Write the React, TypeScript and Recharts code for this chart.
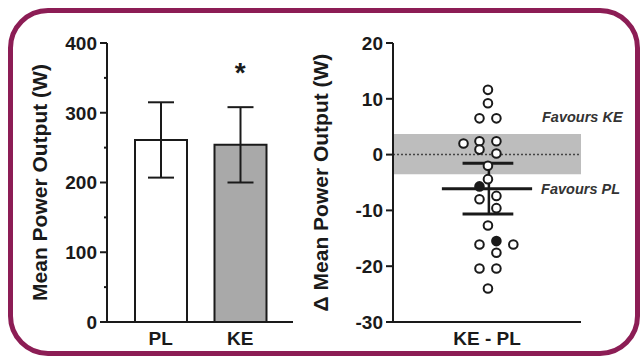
import {
  BarChart,
  Bar,
  Cell,
  XAxis,
  YAxis,
  ErrorBar,
  ReferenceDot,
  ComposedChart,
  Scatter,
  ReferenceLine,
  ReferenceArea,
} from "recharts";

// left panel: group means ± SD
const groups = ["PL", "KE"];
const groupMeans = [261, 254];
const groupSD = [54, 54];
const groupFills = ["#ffffff", "#a9a9a9"];
const leftTicks = [0, 50, 100, 150, 200, 250, 300, 350, 400];

// right panel: individual KE - PL differences
const diffValues = [
  11.6, 9.2, 6.5, 6.5, 2.0, 2.4, 2.4, 0.9, 0.2, -2.0, -4.4, -5.7, -8.0, -7.4,
  -9.6, -12.7, -16.1, -15.5, -16.1, -17.6, -20.4, -20.4, -24.0,
];
const diffJitter = [
  0.1, 0.1, -0.8, 1.0, -2.5, -0.8, 1.0, -0.8, 1.0, 0.1, 0.1, -0.8, -0.8, 1.0,
  1.0, 0.1, -0.8, 1.0, 2.8, 1.0, -0.8, 1.0, 0.1,
];
const diffFilled = [
  false, false, false, false, false, false, false, false, false, false, false,
  true, false, false, false, false, false, true, false, false, false, false,
  false,
];
const meanDiff = -6.1;
const semDiff = 4.55;
const swcUpper = 3.7;
const swcLower = -3.5;
const rightTicks = [-30, -20, -10, 0, 10, 20];

const INK = "#1a1a1a";
const FONT = "'Liberation Sans', Arial, sans-serif";
const TICK_SIZE = 7;
const TICK_MARGIN = 3;

const barData = groups.map((g, i) => ({ name: g, mean: groupMeans[i], sd: groupSD[i] }));
const diffData = diffValues.map((v, i) => ({ x: diffJitter[i], y: v, filled: diffFilled[i] }));

const tickText = { fontSize: 19, fontWeight: "bold", fill: INK } as const;
const noteText = { fontSize: 14.5, fontWeight: "bold", fontStyle: "italic", fill: "#333" } as const;

function LeftTick(props: any) {
  const { x, y, payload } = props;
  const major = payload.value % 100 === 0;
  const x2 = x + TICK_MARGIN + TICK_SIZE;
  return (
    <g>
      <line x1={major ? x2 - TICK_SIZE : x2 - 3} x2={x2} y1={y} y2={y} stroke={INK} strokeWidth={2} />
      {major && (
        <text x={x} y={y} dy="0.36em" textAnchor="end" {...tickText}>
          {payload.value}
        </text>
      )}
    </g>
  );
}

function Dot(props: any) {
  const { cx, cy, payload } = props;
  return (
    <circle cx={cx} cy={cy} r={4.3} fill={payload.filled ? INK : "#fff"} stroke={INK} strokeWidth={2} />
  );
}

export default function App() {
  return (
    <div
      style={{
        position: "absolute",
        left: 0,
        top: 0,
        width: 642,
        height: 362,
        background: "#fff",
        fontFamily: FONT,
      }}
    >
      <div
        style={{
          position: "absolute",
          left: 8,
          top: 8,
          width: 632,
          height: 348,
          boxSizing: "border-box",
          border: "5px solid #8c1d55",
          borderRadius: 40,
        }}
      />

      {/* Mean power by condition */}
      <div style={{ position: "absolute", left: 0, top: 0 }}>
        <BarChart width={300} height={362} data={barData} margin={{ top: 43, right: 7, bottom: 10, left: 32 }}>
          <XAxis
            dataKey="name"
            height={30}
            padding={{ left: 14, right: 13 }}
            axisLine={{ stroke: INK, strokeWidth: 2 }}
            tickLine={false}
            tickMargin={4}
            tick={tickText}
          />
          <YAxis
            domain={[0, 400]}
            ticks={leftTicks}
            interval={0}
            width={75}
            tickSize={TICK_SIZE}
            tickMargin={TICK_MARGIN}
            tickLine={{ stroke: "none" }}
            axisLine={{ stroke: INK, strokeWidth: 2 }}
            tick={<LeftTick />}
            label={{
              value: "Mean Power Output (W)",
              angle: -90,
              position: "insideLeft",
              offset: 8,
              style: { textAnchor: "middle", fontSize: 21, fontWeight: "bold", fill: INK },
            }}
          />
          <Bar dataKey="mean" barSize={52} stroke={INK} strokeWidth={2} isAnimationActive={false}>
            {barData.map((d, i) => (
              <Cell key={d.name} fill={groupFills[i]} />
            ))}
            <ErrorBar dataKey="sd" width={13} stroke={INK} strokeWidth={2} direction="y" />
          </Bar>
          <ReferenceDot
            x="KE"
            y={358}
            r={0}
            fill="none"
            stroke="none"
            label={{ value: "*", position: "center", fontSize: 28, fontWeight: "bold", fill: INK }}
          />
        </BarChart>
      </div>

      {/* Individual differences */}
      <div style={{ position: "absolute", left: 310, top: 0 }}>
        <ComposedChart width={332} height={362} margin={{ top: 43, right: 61, bottom: 10, left: 3 }}>
          <XAxis
            type="number"
            dataKey="x"
            domain={[-10, 10]}
            ticks={[0]}
            tickFormatter={() => "KE - PL"}
            height={30}
            axisLine={{ stroke: INK, strokeWidth: 2 }}
            tickLine={false}
            tickMargin={4}
            tick={tickText}
          />
          <YAxis
            type="number"
            dataKey="y"
            domain={[-30, 20]}
            ticks={rightTicks}
            interval={0}
            width={80}
            tickSize={TICK_SIZE}
            tickMargin={TICK_MARGIN}
            tickLine={{ stroke: INK, strokeWidth: 2 }}
            axisLine={{ stroke: INK, strokeWidth: 2 }}
            tick={tickText}
            label={{
              value: "Δ Mean Power Output (W)",
              angle: -90,
              position: "insideLeft",
              offset: 8,
              style: { textAnchor: "middle", fontSize: 21, fontWeight: "bold", fill: INK },
            }}
          />
          <ReferenceArea y1={swcLower} y2={swcUpper} fill="#bdbdbd" fillOpacity={1} stroke="none" />
          <ReferenceLine y={0} stroke="#444" strokeWidth={1.5} strokeDasharray="2 2" />
          <ReferenceLine
            segment={[{ x: 0.2, y: meanDiff - semDiff }, { x: 0.2, y: meanDiff + semDiff }]}
            stroke={INK}
            strokeWidth={2.5}
          />
          <ReferenceLine
            segment={[{ x: -2.6, y: meanDiff + semDiff }, { x: 2.8, y: meanDiff + semDiff }]}
            stroke={INK}
            strokeWidth={3}
          />
          <ReferenceLine
            segment={[{ x: -2.6, y: meanDiff - semDiff }, { x: 2.8, y: meanDiff - semDiff }]}
            stroke={INK}
            strokeWidth={3}
          />
          <ReferenceLine
            segment={[{ x: -4.8, y: meanDiff }, { x: 4.8, y: meanDiff }]}
            stroke={INK}
            strokeWidth={3}
          />
          <Scatter data={diffData} shape={<Dot />} isAnimationActive={false} />
          <ReferenceDot
            x={5.85}
            y={6.7}
            r={0}
            fill="none"
            stroke="none"
            label={{ value: "Favours KE", position: "right", offset: 0, ...noteText }}
          />
          <ReferenceDot
            x={5.75}
            y={meanDiff}
            r={0}
            fill="none"
            stroke="none"
            label={{ value: "Favours PL", position: "right", offset: 0, ...noteText }}
          />
        </ComposedChart>
      </div>
    </div>
  );
}
